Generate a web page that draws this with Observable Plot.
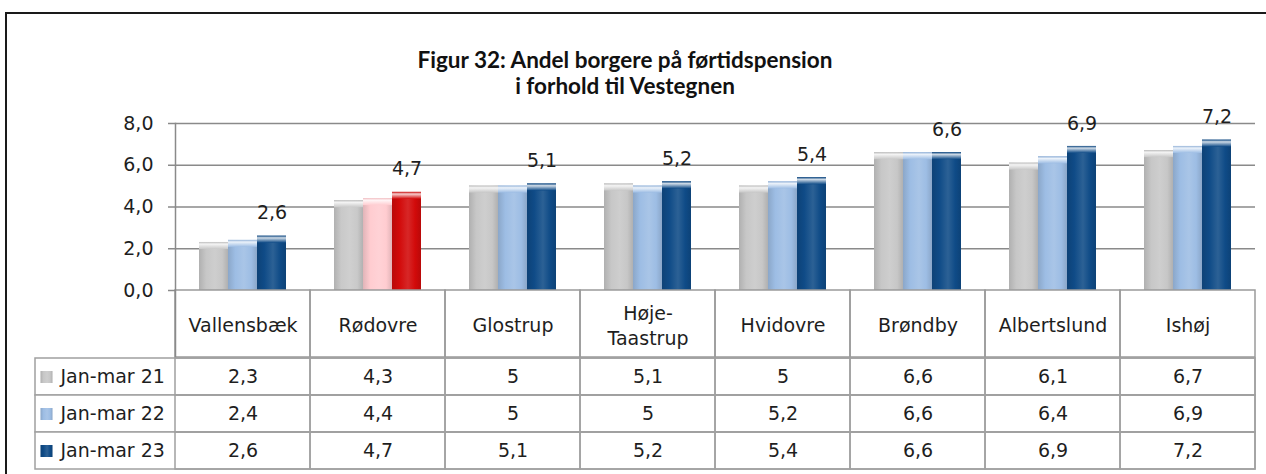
<!DOCTYPE html>
<html><head><meta charset="utf-8">
<script src="https://cdn.jsdelivr.net/npm/d3@7"></script>
<script src="https://cdn.jsdelivr.net/npm/@observablehq/plot@0.6"></script>
<style>
html,body{margin:0;padding:0;background:#fff;}
#wrap{position:relative;width:1266px;height:474px;overflow:hidden;background:#fff;font-family:"DejaVu Sans",sans-serif;}
#border{position:absolute;left:5px;top:12px;width:1300px;height:500px;border-top:2px solid #1a1a1a;border-left:2px solid #1a1a1a;}
#title{position:absolute;left:0;width:1250px;top:47px;text-align:center;font-family:Lato,"Open Sans",sans-serif;font-weight:bold;font-size:22.5px;line-height:26px;color:#111;}
#chart{position:absolute;left:0;top:95px;}
#table{position:absolute;left:0;top:356px;}
#defs{position:absolute;left:0;top:0;width:0;height:0;}
svg{overflow:visible}
</style>
</head><body>
<div id="wrap">
  <svg id="defs"><defs id="gdefs"></defs></svg>
  <div id="border"></div>
  <div id="title">Figur 32: Andel borgere på førtidspension<br>i forhold til Vestegnen</div>
  <div id="chart"></div>
  <div id="table"></div>
</div>
<script>
// ---- data ----
const categories = ["Vallensbæk", "Rødovre", "Glostrup", "Høje-Taastrup", "Hvidovre", "Brøndby", "Albertslund", "Ishøj"];
const seriesNames = ["Jan-mar 21", "Jan-mar 22", "Jan-mar 23"];
const janMar21 = [2.3, 4.3, 5, 5.1, 5, 6.6, 6.1, 6.7];
const janMar22 = [2.4, 4.4, 5, 5, 5.2, 6.6, 6.4, 6.9];
const janMar23 = [2.6, 4.7, 5.1, 5.2, 5.4, 6.6, 6.9, 7.2];
const yTicks = [0, 2, 4, 6, 8];
const labelSeries = "Jan-mar 23";
const highlightCategory = "Rødovre";
const seriesColors = ["#c7c7c7", "#9dbde4", "#0f4b87"];
const highlightColors = ["#c9c9c9", "#ffccd0", "#d20a0a"];

const seriesValues = [janMar21, janMar22, janMar23];
const rows = [];
categories.forEach((c, i) => seriesNames.forEach((s, j) => rows.push({category: c, series: s, si: j, value: seriesValues[j][i]})));

const fmt = v => String(v).replace(".", ",");
const tickFmt = v => d3.format(".1f")(v).replace(".", ",");

// ---- gradients (styling) ----
const gdefs = d3.select("#gdefs");
function addGrad(id, base) {
  const c = d3.color(base);
  const g = gdefs.append("linearGradient").attr("id", id).attr("x1", 0).attr("x2", 1).attr("y1", 0).attr("y2", 0);
  [[0, c.darker(0.35)], [0.25, c], [0.55, d3.interpolateRgb(c, "#fff")(0.12)], [0.8, c], [1, c.darker(0.35)]]
    .forEach(([o, col]) => g.append("stop").attr("offset", o).attr("stop-color", d3.color(col).formatHex()));
  const h = gdefs.append("linearGradient").attr("id", id + "-hi").attr("x1", 0).attr("x2", 0).attr("y1", 0).attr("y2", 1);
  [[0, c.darker(0.15)], [0.3, d3.interpolateRgb(c, "#fff")(0.8)], [1, c]]
    .forEach(([o, col]) => h.append("stop").attr("offset", o).attr("stop-color", d3.color(col).formatHex()));
}
seriesColors.forEach((c, i) => addGrad("gs" + i, c));
highlightColors.forEach((c, i) => addGrad("gh" + i, c));
const gid = d => (d.category === highlightCategory ? "gh" : "gs") + d.si;

const font = {fontFamily: "DejaVu Sans, sans-serif", fontSize: "19px", color: "#1e1e1e", background: "transparent", overflow: "visible"};

// ---- chart ----
const chart = Plot.plot({
  width: 1266, height: 262,
  marginTop: 28, marginBottom: 67, marginLeft: 175, marginRight: 11,
  style: font,
  fx: {domain: categories, padding: 0, axis: null},
  x: {domain: seriesNames, paddingInner: 0, paddingOuter: 0.77, axis: null},
  y: {domain: [0, 8], axis: null},
  color: {type: "identity"},
  marks: [
    Plot.gridY(yTicks.filter(t => t > 0), {stroke: "#8a8a8a", strokeOpacity: 1, strokeWidth: 1.5}),
    Plot.barY(rows, {fx: "category", x: "series", y: "value", fill: d => `url(#${gid(d)})`}),
    Plot.barY(rows, {fx: "category", x: "series", y1: "value", y2: "value", insetBottom: -7, fill: d => `url(#${gid(d)}-hi)`}),
    Plot.text(rows.filter(d => d.series === labelSeries), {fx: "category", x: "series", y: "value", text: d => fmt(d.value), dy: -23, fill: "#1e1e1e"}),
    Plot.barY(categories, {fx: d => d, y1: 0, y2: 0, insetBottom: -67, fill: "none", stroke: "#9a9a9a", strokeWidth: 1.5}),
    Plot.text(categories, {fx: d => d, frameAnchor: "bottom", dy: 34, lineAnchor: "middle", text: d => d.replace("-", "-\n"), lineHeight: 1.3, fill: "#1e1e1e"}),
    Plot.axisY(yTicks, {tickSize: 7, tickPadding: 15, tickFormat: tickFmt, label: null, stroke: "#8a8a8a", strokeWidth: 1.5, fill: "#1e1e1e"}),
    Plot.frame({anchor: "left", facetAnchor: "left", insetBottom: -67, stroke: "#8a8a8a", strokeWidth: 1.5})
  ]
});
document.getElementById("chart").append(chart);

// ---- data table ----
const table = Plot.plot({
  width: 1266, height: 115,
  marginTop: 1, marginBottom: 1, marginLeft: 175, marginRight: 11,
  style: font,
  x: {domain: categories, padding: 0, axis: null},
  y: {domain: seriesNames, padding: 0, axis: null},
  color: {type: "identity"},
  marks: [
    Plot.cell(seriesNames, {y: d => d, insetLeft: -140, fill: "white", stroke: "#a0a0a0", strokeWidth: 1.5}),
    Plot.cell(rows, {x: "category", y: "series", fill: "none", stroke: "#a0a0a0", strokeWidth: 1.5}),
    Plot.text(rows, {x: "category", y: "series", text: d => fmt(d.value), fill: "#1e1e1e"}),
    Plot.text(seriesNames, {y: d => d, frameAnchor: "left", textAnchor: "start", dx: -115, text: d => d, fill: "#1e1e1e"}),
    Plot.dot(seriesNames, {y: d => d, frameAnchor: "left", dx: -129, symbol: "square", r: 6.8, fill: (d, i) => `url(#gs${i})`})
  ]
});
document.getElementById("table").append(table);
</script>
</body></html>
